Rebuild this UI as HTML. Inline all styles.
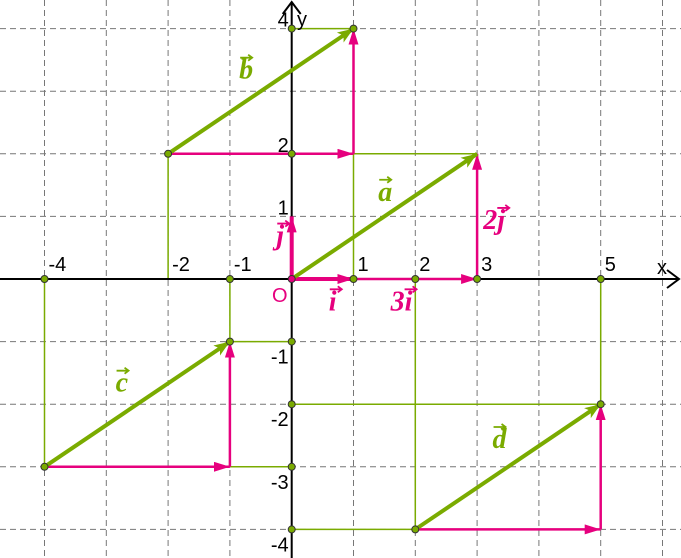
<!DOCTYPE html>
<html><head><meta charset="utf-8"><style>
html,body{margin:0;padding:0;background:#fff;width:681px;height:558px;overflow:hidden}
svg{display:block}
text{font-family:"Liberation Sans",sans-serif}
.vl{font-family:"Liberation Serif",serif;font-style:italic;font-weight:bold;font-size:28px}
</style></head><body>
<svg id="chart" width="681" height="558" viewBox="0 0 681 558" xmlns="http://www.w3.org/2000/svg">
<defs>
<marker id="mg" viewBox="0 0 16 12" refX="16" refY="6" markerUnits="userSpaceOnUse" markerWidth="16" markerHeight="12" orient="auto"><path d="M0,0L16,6L0,12L4,6z" fill="#7aab00"/></marker>
<marker id="mm" viewBox="0 0 16 10" refX="16" refY="5" markerUnits="userSpaceOnUse" markerWidth="16" markerHeight="10" orient="auto"><path d="M0,0L16,5L0,10z" fill="#e6007e"/></marker>
</defs>
<g id="grid"></g><g id="guides"></g><g id="axes"></g><g id="vecs"></g><g id="pts"></g><g id="labels"></g>
</svg>
<script>
const xTicks=[-4,-2,-1,1,2,3,5];
const yTicks=[4,2,1,-1,-2,-3,-4];
// green vectors: [x1,y1,x2,y2,label]
const greenVecs=[[0,0,3,2,'a'],[-2,2,1,4,'b'],[-4,-3,-1,-1,'c'],[2,-4,5,-2,'d']];
// magenta component vectors
const magVecs=[[0,0,3,0],[3,0,3,2],[-2,2,1,2],[1,2,1,4],[-4,-3,-1,-3],[-1,-3,-1,-1],[2,-4,5,-4],[5,-4,5,-2]];
const unitVecs=[[0,0,1,0],[0,0,0,1]];
// thin green projection lines
const guides=[[1,0,1,2],[1,2,3,2],[0,4,1,4],[-2,2,-2,0],[-4,0,-4,-3],[-1,0,-1,-1],[-1,-1,0,-1],[-1,-3,0,-3],[0,-2,5,-2],[5,0,5,-2],[0,-4,2,-4],[2,0,2,-4]];
const points=[[0,4],[1,4],[-2,2],[0,2],[1,0],[2,0],[3,0],[-4,0],[-1,0],[5,0],[-1,-1],[0,-1],[0,-2],[5,-2],[-4,-3],[0,-3],[0,-4],[2,-4]];
const vecLabels=[['a',1.4,1.25,'#7aab00'],['b',-0.85,3.2,'#7aab00'],['c',-2.85,-1.8,'#7aab00'],['d',3.25,-2.7,'#7aab00'],['j',-0.25,0.55,'#e6007e'],['i',0.6,-0.5,'#e6007e'],['3i',1.6,-0.5,'#e6007e'],['2j',3.1,0.8,'#e6007e']];

const NS='http://www.w3.org/2000/svg';
const ox=291.7,oy=279,ux=61.8,uy=62.6;
const X=v=>ox+v*ux, Y=v=>oy-v*uy;
function mk(tag,attrs,parent){const e=document.createElementNS(NS,tag);for(const k in attrs)e.setAttribute(k,attrs[k]);document.getElementById(parent).appendChild(e);return e;}

for(let k=-5;k<=7;k++){const x=X(k);if(x<0||x>681||k===0)continue;
 const l=mk('line',{x1:x,y1:0,x2:x,y2:558,stroke:'#777','stroke-width':1,'stroke-dasharray':'6,4'},'grid');
 
 }
for(let k=-5;k<=5;k++){const y=Y(k);if(y<0||y>558||k===0)continue;
 const l=mk('line',{x1:0,y1:y,x2:681,y2:y,stroke:'#777','stroke-width':1,'stroke-dasharray':'6,4'},'grid');
 
 }

guides.forEach(g=>{const l=mk('line',{x1:X(g[0]),y1:Y(g[1]),x2:X(g[2]),y2:Y(g[3]),stroke:'#7aab00','stroke-width':1.5},'guides');
 
 });

const xa=mk('path',{d:`M0,${oy}H679M667,${oy-9}L679,${oy}L667,${oy+9}`,stroke:'#000','stroke-width':2,fill:'none'},'axes');


const ya=mk('path',{d:`M${ox},558V2M${ox-9},14L${ox},2L${ox+9},14`,stroke:'#000','stroke-width':2,fill:'none'},'axes');


const xt=mk('text',{x:657,y:274,'font-size':20},'axes');xt.textContent='x';


const yt=mk('text',{x:297,y:26,'font-size':20},'axes');yt.textContent='y';


const ot=mk('text',{x:272,y:302,'font-size':20,fill:'#e6007e'},'axes');ot.textContent='O';



xTicks.forEach(v=>{const t=mk('text',{x:X(v)+4,y:oy-8,'font-size':20},'labels');t.textContent=v;
 
 });
yTicks.forEach(v=>{const t=mk('text',{x:ox-3,y:Y(v)+(v>0?-2:22),'font-size':20,'text-anchor':'end'},'labels');t.textContent=v;
 
 });

magVecs.forEach(v=>{const l=mk('line',{x1:X(v[0]),y1:Y(v[1]),x2:X(v[2]),y2:Y(v[3]),stroke:'#e6007e','stroke-width':2.5,'marker-end':'url(#mm)'},'vecs');
 
 });
unitVecs.forEach(v=>{const l=mk('line',{x1:X(v[0]),y1:Y(v[1]),x2:X(v[2]),y2:Y(v[3]),stroke:'#e6007e','stroke-width':4,'marker-end':'url(#mm)'},'vecs');
 
 });
greenVecs.forEach(v=>{const l=mk('line',{x1:X(v[0]),y1:Y(v[1]),x2:X(v[2]),y2:Y(v[3]),stroke:'#7aab00','stroke-width':4,'marker-end':'url(#mg)'},'vecs');
 
 });

points.forEach(p=>{const c=mk('circle',{cx:X(p[0]),cy:Y(p[1]),r:3.5,fill:'#7aab00',stroke:'#333','stroke-width':1},'pts');
 
 });
const oc=mk('circle',{cx:ox,cy:oy,r:3.5,fill:'#e6007e',stroke:'#333','stroke-width':1},'pts');



vecLabels.forEach(L=>{const x=X(L[1]),y=Y(L[2]);
 const t=mk('text',{x:x,y:y,class:'vl',fill:L[3]},'labels');t.textContent=L[0];
 
 
 const w=L[0].length*13;const ax=x+w-12;
 const a=mk('path',{d:`M${ax},${y-21}h12M${ax+8},${y-24}l4,3l-4,3`,stroke:L[3],'stroke-width':1.8,fill:'none'},'labels');
 
 });
</script>
</body></html>
